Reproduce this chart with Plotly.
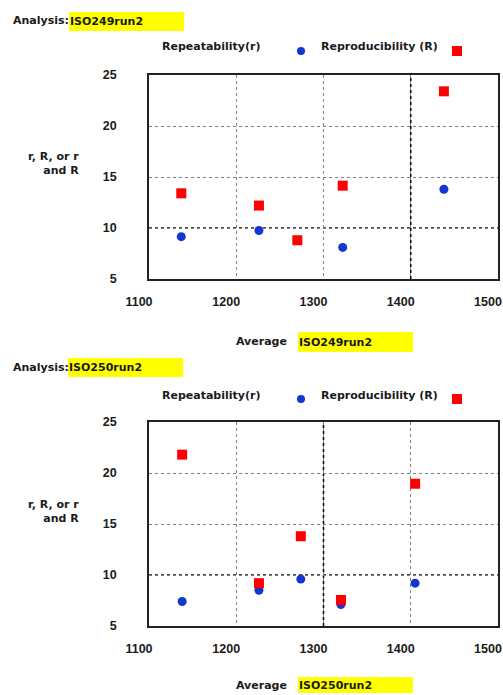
import plotly.graph_objects as go

W, H = 503, 695

# ---------------- data ----------------
top_name = "ISO249run2"
bot_name = "ISO250run2"

top_r_x = [1137, 1226, 1322, 1438]
top_r_y = [9.15, 9.75, 8.1, 13.8]
top_R_x = [1137, 1226, 1270, 1322, 1438]
top_R_y = [13.4, 12.2, 8.8, 14.15, 23.4]

bot_r_x = [1138, 1226, 1274, 1320, 1405]
bot_r_y = [7.4, 8.5, 9.6, 7.1, 9.2]
bot_R_x = [1138, 1226, 1274, 1320, 1405]
bot_R_y = [21.8, 9.2, 13.8, 7.55, 18.95]

x_ticks = [1100, 1200, 1300, 1400, 1500]
y_ticks = [5, 10, 15, 20, 25]
top_ref = {"x": 1400, "y": 10}
bot_ref = {"x": 1300, "y": 10}

FONT = "DejaVu Sans"
TICKFONT = "Liberation Sans"
TXT = "#1a1a1a"
BLUE = "#1236d0"
RED = "#ff0000"
YEL = "#ffff00"


def px(x):
    return x / W


def py(y):
    return 1 - y / H


fig = go.Figure()

fig.add_trace(go.Scatter(x=top_r_x, y=top_r_y, mode="markers", xaxis="x", yaxis="y",
                         marker=dict(symbol="circle", size=9, color=BLUE), showlegend=False))
fig.add_trace(go.Scatter(x=top_R_x, y=top_R_y, mode="markers", xaxis="x", yaxis="y",
                         marker=dict(symbol="square", size=10, color=RED), showlegend=False))
fig.add_trace(go.Scatter(x=bot_r_x, y=bot_r_y, mode="markers", xaxis="x2", yaxis="y2",
                         marker=dict(symbol="circle", size=9, color=BLUE), showlegend=False))
fig.add_trace(go.Scatter(x=bot_R_x, y=bot_R_y, mode="markers", xaxis="x2", yaxis="y2",
                         marker=dict(symbol="square", size=10, color=RED), showlegend=False))

xdom = [px(149), px(498)]
axx = dict(range=[1100, 1500], tickvals=x_ticks, showgrid=True, gridcolor="#808080",
           griddash="dot", gridwidth=1, showline=True, mirror=True, linecolor="#222",
           linewidth=1.5, zeroline=False, ticks="", ticklabelshift=-10, ticklabelstandoff=10,
           automargin=False,
           tickfont=dict(family=TICKFONT, size=12.5, color=TXT, weight="bold"), fixedrange=True)
axy = dict(range=[5, 25], tickvals=y_ticks, showgrid=True, gridcolor="#808080",
           griddash="dot", gridwidth=1, showline=True, mirror=True, linecolor="#222",
           linewidth=1.5, zeroline=False, ticks="", ticklabelstandoff=28,
           automargin=False,
           tickfont=dict(family=TICKFONT, size=12.5, color=TXT, weight="bold"), fixedrange=True)

fig.update_layout(
    width=W, height=H, margin=dict(l=0, r=0, t=0, b=0, pad=0, autoexpand=False),
    paper_bgcolor="white", plot_bgcolor="white", showlegend=False,
    xaxis=dict(axx, domain=xdom, anchor="y"),
    yaxis=dict(axy, domain=[py(279), py(75)], anchor="x"),
    xaxis2=dict(axx, domain=xdom, anchor="y2"),
    yaxis2=dict(axy, domain=[py(626), py(422)], anchor="x2"),
)

shapes = []
annos = []


def ref_lines(xa, ya, ref):
    shapes.append(dict(type="line", xref=xa, yref=ya + " domain", x0=ref["x"], x1=ref["x"], y0=0, y1=1,
                       line=dict(color="#111", width=1.6, dash="dot"), layer="below"))
    shapes.append(dict(type="line", xref=xa + " domain", yref=ya, x0=0, x1=1, y0=ref["y"], y1=ref["y"],
                       line=dict(color="#111", width=1.6, dash="dot"), layer="below"))


ref_lines("x", "y", top_ref)
ref_lines("x2", "y2", bot_ref)


def text(x, y, s, xanchor="left", size=11):
    annos.append(dict(x=px(x), y=py(y), xref="paper", yref="paper", text=s, showarrow=False,
                      xanchor=xanchor, yanchor="middle", align="right" if xanchor == "right" else "left",
                      borderpad=0,
                      font=dict(family=FONT, size=size, color=TXT, weight="bold")))


def ybox(x0, x1, y0, y1, s):
    shapes.append(dict(type="rect", xref="paper", yref="paper", x0=px(x0), x1=px(x1), y0=py(y1), y1=py(y0),
                       fillcolor=YEL, line=dict(width=0), layer="below"))
    text(x0, (y0 + y1) / 2, s)


def legend(ytext, ymark):
    text(161, ytext, "Repeatability(r)")
    shapes.append(dict(type="circle", xref="paper", yref="paper", x0=px(297), x1=px(305),
                       y0=py(ymark + 4), y1=py(ymark - 4), fillcolor=BLUE, line=dict(width=0)))
    text(320, ytext, "Reproducibility (R)")
    shapes.append(dict(type="rect", xref="paper", yref="paper", x0=px(452), x1=px(462),
                       y0=py(ymark + 5), y1=py(ymark - 5), fillcolor=RED, line=dict(width=0)))


# top panel texts
text(12, 20, "Analysis:")
ybox(69, 184, 12, 31, top_name)
legend(47, 51)
text(80, 164, "r, R, or r<br>and R", xanchor="right")
text(288, 341, "Average", xanchor="right")
ybox(298, 413, 332, 352, top_name)

# bottom panel texts
text(12, 367, "Analysis:")
ybox(68, 183, 358, 377, bot_name)
legend(395, 399)
text(80, 511, "r, R, or r<br>and R", xanchor="right")
text(288, 685, "Average", xanchor="right")
ybox(298, 413, 677, 693, bot_name)

fig.update_layout(shapes=shapes, annotations=annos)

# remove the default page margin so the 503x695 figure fills the window exactly
reset_css = ("document.documentElement.style.margin='0';document.documentElement.style.padding='0';"
             "document.documentElement.style.overflow='hidden';"
             "document.body.style.margin='0';document.body.style.padding='0';"
             "document.body.style.overflow='hidden';")
fig.write_html("out.html", post_script=reset_css, config={"displayModeBar": False})
